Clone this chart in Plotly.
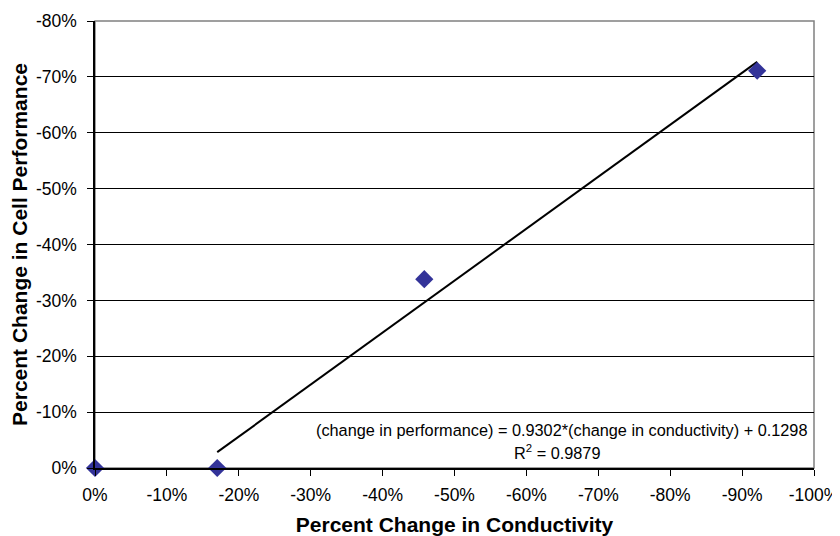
import plotly.graph_objects as go

# Data
conductivity_change = [0.0, -0.17, -0.458, -0.921]
performance_change = [0.0, 0.0, -0.338, -0.711]
trend_slope = 0.9302
trend_intercept = 0.1298
trend_r2 = 0.9879
x_ticks = [0, -0.1, -0.2, -0.3, -0.4, -0.5, -0.6, -0.7, -0.8, -0.9, -1.0]
x_labels = ["0%", "-10%", "-20%", "-30%", "-40%", "-50%", "-60%", "-70%", "-80%", "-90%", "-100%"]
y_ticks = [0, -0.1, -0.2, -0.3, -0.4, -0.5, -0.6, -0.7, -0.8]
y_labels = ["0%", "-10%", "-20%", "-30%", "-40%", "-50%", "-60%", "-70%", "-80%"]

# trendline over the fitted x span
trend_x = [conductivity_change[1], conductivity_change[-1]]
trend_y = [trend_slope * x + trend_intercept for x in trend_x]

FONT = "Liberation Sans, Arial, sans-serif"

fig = go.Figure()
fig.add_trace(go.Scatter(
    x=trend_x, y=trend_y, mode="lines",
    line=dict(color="black", width=2), showlegend=False, hoverinfo="skip"))
fig.add_trace(go.Scatter(
    x=conductivity_change, y=performance_change, mode="markers",
    marker=dict(symbol="diamond", size=14, color="#333399"),
    showlegend=False, cliponaxis=False))

fig.add_annotation(
    xref="paper", yref="paper", x=0.649, y=0.085, xanchor="center", yanchor="middle",
    text="(change in performance) = %.4f*(change in conductivity) + %.4f" % (trend_slope, trend_intercept),
    showarrow=False, font=dict(family=FONT, size=16.3, color="black"))
fig.add_annotation(
    xref="paper", yref="paper", x=0.643, y=0.036, xanchor="center", yanchor="middle",
    text="R<sup>2</sup> = %.4f" % trend_r2,
    showarrow=False, font=dict(family=FONT, size=16.3, color="black"))

fig.add_shape(type="rect", xref="paper", yref="paper", x0=0, y0=0, x1=1, y1=1,
              line=dict(color="#808080", width=1.5), layer="below")

# page body has an 8px margin, so the figure is 8px smaller and shifted
fig.update_layout(
    width=832, height=528,
    margin=dict(l=87, r=26, t=13, b=68),
    paper_bgcolor="white", plot_bgcolor="white",
    font=dict(family=FONT, size=17, color="black"),
    xaxis=dict(
        range=[0, -1], tickvals=x_ticks, ticktext=x_labels, automargin=False,
        showgrid=False, zeroline=False,
        showline=True, linecolor="black", linewidth=1.5,
        ticks="outside", ticklen=6, tickcolor="black", tickwidth=1,
        ticklabelstandoff=4,
        title=dict(text="<b>Percent Change in Conductivity</b>", font=dict(size=21), standoff=14),
        tickfont=dict(size=17.5)),
    yaxis=dict(
        range=[0, -0.8], tickvals=y_ticks, ticktext=y_labels, automargin=False,
        showgrid=True, gridcolor="black", gridwidth=1, zeroline=False,
        showline=True, linecolor="black", linewidth=1.5,
        ticks="outside", ticklen=6, tickcolor="black", tickwidth=1,
        ticklabelstandoff=7,
        title=dict(text="<b>Percent Change in Cell Performance</b>", font=dict(size=21), standoff=6),
        tickfont=dict(size=17.5)),
)

fig.write_html("out.html")
